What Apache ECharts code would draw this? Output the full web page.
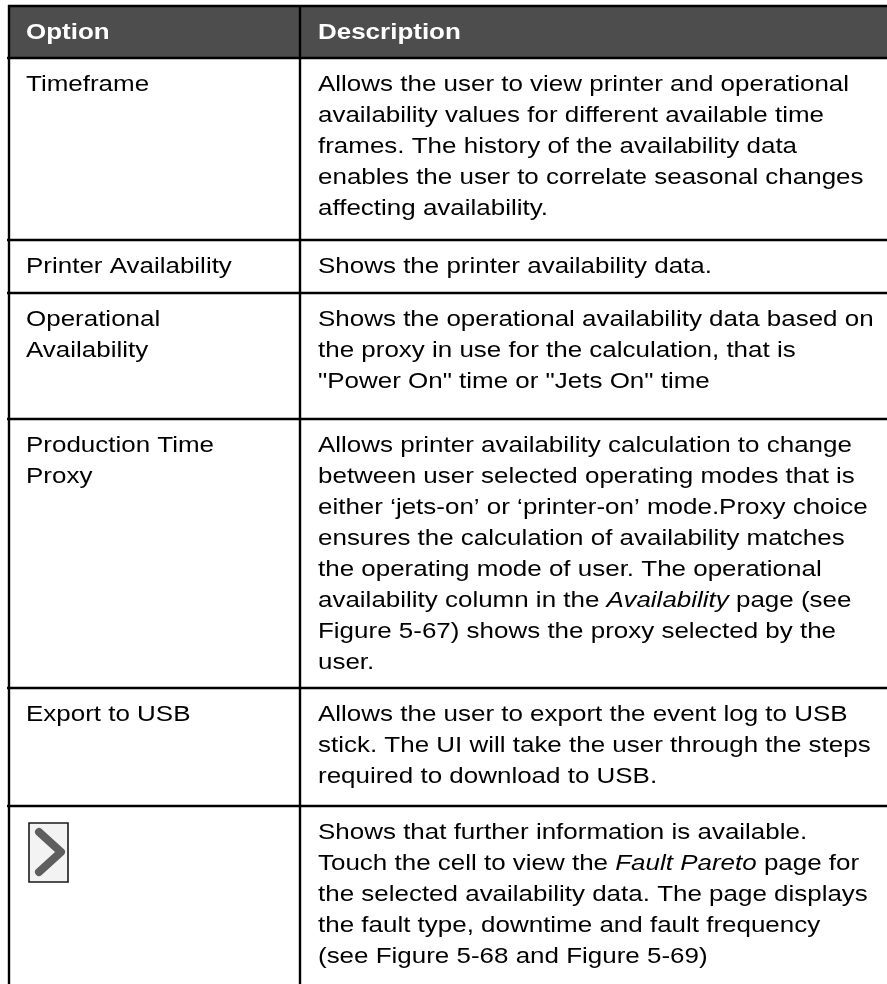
<!DOCTYPE html>
<html>
<head>
<meta charset="utf-8">
<script src="https://cdn.jsdelivr.net/npm/echarts@6/dist/echarts.min.js"></script>
<style>
html,body{margin:0;padding:0;background:#fff;}
#chart{width:887px;height:984px;}
</style>
</head>
<body>
<div id="chart"></div>
<script>
// ---- table content ----
const headers = ['Option', 'Description'];
const optionLabels = [
  ['Timeframe'],
  ['Printer Availability'],
  ['Operational', 'Availability'],
  ['Production Time', 'Proxy'],
  ['Export to USB'],
  [] // arrow icon row
];
const descriptions = [
  ['Allows the user to view printer and operational',
   'availability values for different available time',
   'frames. The history of the availability data',
   'enables the user to correlate seasonal changes',
   'affecting availability.'],
  ['Shows the printer availability data.'],
  ['Shows the operational availability data based on',
   'the proxy in use for the calculation, that is',
   '"Power On" time or "Jets On" time'],
  ['Allows printer availability calculation to change',
   'between user selected operating modes that is',
   'either \u2018jets-on\u2019 or \u2018printer-on\u2019 mode.Proxy choice',
   'ensures the calculation of availability matches',
   'the operating mode of user. The operational',
   'availability column in the {i|Availability} page (see',
   'Figure 5-67) shows the proxy selected by the',
   'user.'],
  ['Allows the user to export the event log to USB',
   'stick. The UI will take the user through the steps',
   'required to download to USB.'],
  ['Shows that further information is available.',
   'Touch the cell to view the {i|Fault Pareto} page for',
   'the selected availability data. The page displays',
   'the fault type, downtime and fault frequency',
   '(see Figure 5-68 and Figure 5-69)']
];
const iconRow = 5;

// ---- layout (pixel units of the hidden axes) ----
const W = 887, H = 984;
const tableTop = 5;
const rowEdges = [58, 240, 293, 419, 688, 806, 984];
const colEdges = [9, 300, W];
const lineGap = 31;
const firstLineOffset = 26.5;
const FONT = 'Arial, "Liberation Sans", sans-serif';
const FS = 22;
const STRETCH = 1.18;

const chart = echarts.init(document.getElementById('chart'), null, {renderer: 'canvas'});

function textEl(str, x, y, opts) {
  opts = opts || {};
  const fill = opts.fill || '#000';
  return {
    type: 'text',
    x: x, y: y, scaleX: STRETCH, scaleY: 1,
    style: {
      text: str, x: 0, y: 0,
      fill: fill,
      fontSize: FS, fontFamily: FONT,
      fontWeight: opts.bold ? 'bold' : 'normal',
      verticalAlign: 'middle', align: 'left',
      rich: {i: {fontStyle: 'italic', fontSize: FS, fontFamily: FONT, fill: fill}}
    },
    z2: 10
  };
}
function lineEl(p1, p2, w, color) {
  return {type: 'line', shape: {x1: p1[0], y1: p1[1], x2: p2[0], y2: p2[1]},
          style: {stroke: color || '#000', lineWidth: w || 2.4}, z2: 20};
}

function renderItem(params, api) {
  const idx = params.dataIndex;
  const children = [];
  const xL = api.coord([colEdges[0], 0])[0];
  const xM = api.coord([colEdges[1], 0])[0];
  const xR = api.coord([colEdges[2], 0])[0];
  if (idx === 0) {
    const yT = api.coord([0, tableTop])[1];
    const yB = api.coord([0, rowEdges[0]])[1];
    children.push({type: 'rect', shape: {x: xL, y: yT, width: xR - xL, height: yB - yT}, style: {fill: '#4d4d4d'}, z2: 1});
    children.push(lineEl([xL - 1, yT + 1], [xR, yT + 1]));
    children.push(lineEl([xL - 2, yB], [xR, yB]));
    children.push(lineEl([xL, yT], [xL, yB]));
    children.push(lineEl([xM, yT], [xM, yB]));
    const cy = (yT + yB) / 2 + 1;
    children.push(textEl(headers[0], xL + 17, cy, {bold: true, fill: '#fff'}));
    children.push(textEl(headers[1], xM + 18, cy, {bold: true, fill: '#fff'}));
    return {type: 'group', children: children};
  }
  const r = idx - 1;
  const yT = api.coord([0, rowEdges[r]])[1];
  const yB = api.coord([0, rowEdges[r + 1]])[1];
  children.push(lineEl([xL, yT], [xL, yB]));
  children.push(lineEl([xM, yT], [xM, yB]));
  if (r + 1 < rowEdges.length - 1) children.push(lineEl([xL - 2, yB], [xR, yB]));
  optionLabels[r].forEach(function (s, k) {
    children.push(textEl(s, xL + 17, yT + firstLineOffset + k * lineGap));
  });
  descriptions[r].forEach(function (s, k) {
    children.push(textEl(s, xM + 18, yT + firstLineOffset + k * lineGap));
  });
  if (r === iconRow) {
    const bx = xL + 20, by = yT + 17, bw = 39, bh = 59;
    children.push({type: 'rect', shape: {x: bx, y: by, width: bw, height: bh},
      style: {fill: '#f3f3f3', stroke: '#1a1a1a', lineWidth: 1.6}, z2: 5});
    children.push({type: 'polyline', shape: {points: [[bx + 10, by + 9], [bx + 32, by + 29], [bx + 10, by + 49]]},
      style: {stroke: '#5e5e5e', lineWidth: 8, lineCap: 'round', lineJoin: 'round', fill: null}, z2: 6});
  }
  return {type: 'group', children: children};
}

const rowData = [0].concat(optionLabels.map(function (_, i) { return i + 1; }));

chart.setOption({
  animation: false,
  grid: {left: 0, right: 0, top: 0, bottom: 0},
  xAxis: {type: 'value', min: 0, max: W, show: false},
  yAxis: {type: 'value', min: 0, max: H, inverse: true, show: false},
  series: [{
    type: 'custom',
    coordinateSystem: 'cartesian2d',
    renderItem: renderItem,
    data: rowData.map(function (i) { return [i, i]; }),
    clip: false,
    silent: true
  }]
});
</script>
</body>
</html>
